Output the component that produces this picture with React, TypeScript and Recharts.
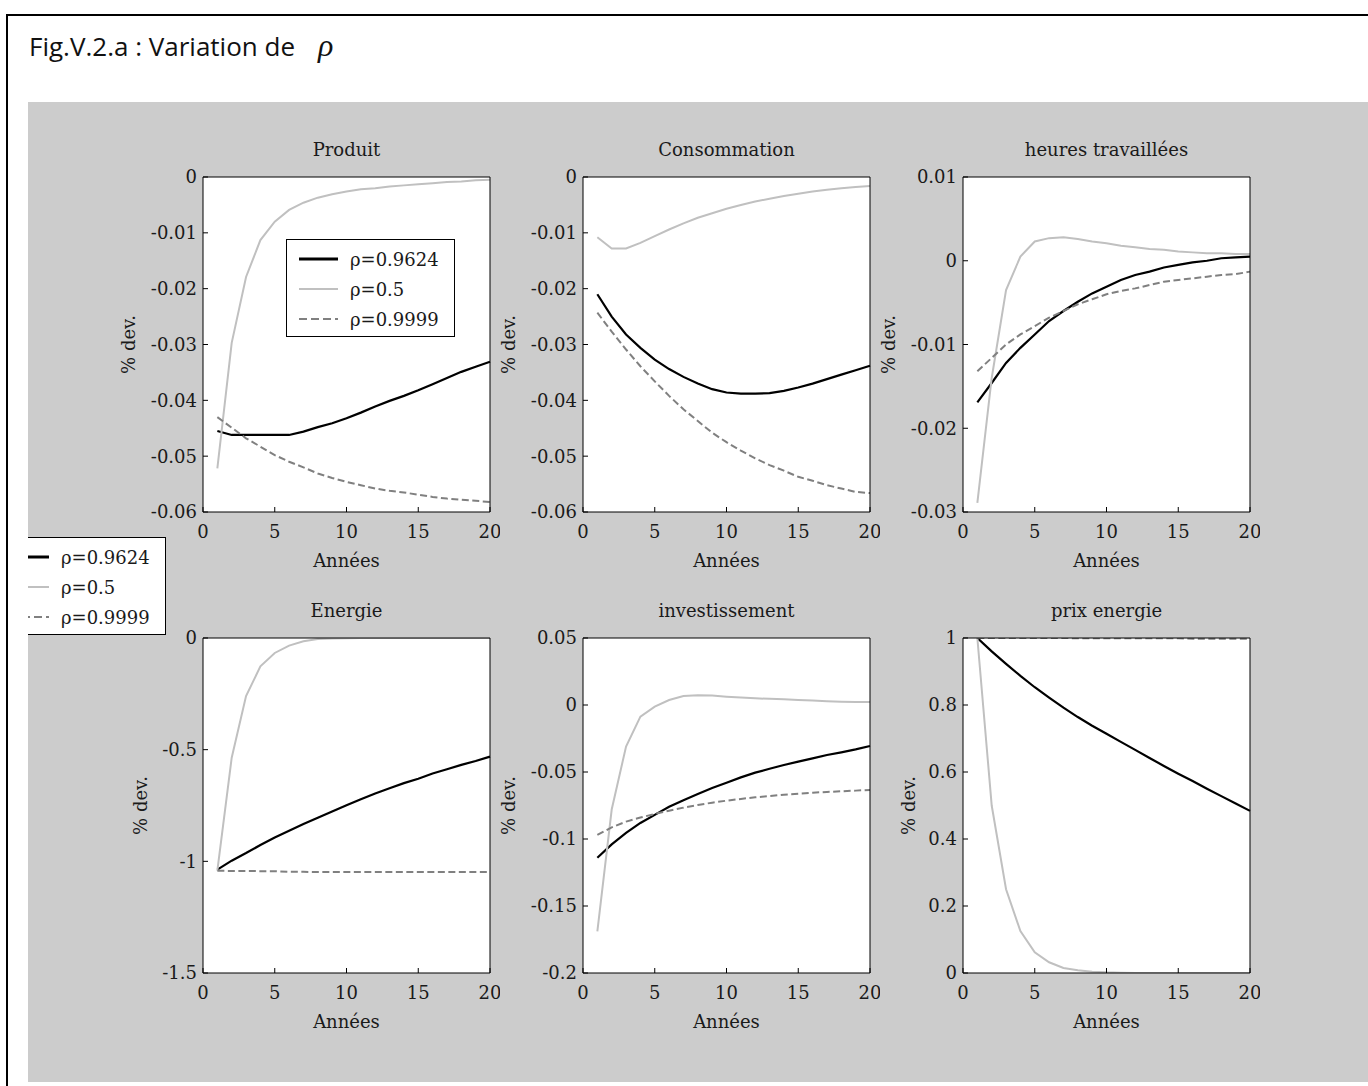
import React from 'react'
import { LineChart, Line, XAxis, YAxis, CartesianGrid } from 'recharts'

// années 1..20
const years = [1, 2, 3, 4, 5, 6, 7, 8, 9, 10, 11, 12, 13, 14, 15, 16, 17, 18, 19, 20]
const xTicks = [0, 5, 10, 15, 20]

const legendLabels = ['ρ=0.9624', 'ρ=0.5', 'ρ=0.9999']

// Produit
const produitA = [-0.0455, -0.0462, -0.0462, -0.0462, -0.0462, -0.0462, -0.0456, -0.0448, -0.0441, -0.0432, -0.0422, -0.0411, -0.0401, -0.0392, -0.0382, -0.0371, -0.036, -0.0349, -0.034, -0.0331]
const produitB = [-0.0522, -0.0297, -0.0179, -0.0113, -0.008, -0.0059, -0.0046, -0.0037, -0.0031, -0.0026, -0.0022, -0.002, -0.0017, -0.0015, -0.0013, -0.0011, -0.0009, -0.0008, -0.0006, -0.0005]
const produitC = [-0.043, -0.0449, -0.0468, -0.0483, -0.0498, -0.051, -0.052, -0.0531, -0.0539, -0.0546, -0.0552, -0.0558, -0.0562, -0.0565, -0.0569, -0.0573, -0.0576, -0.0578, -0.058, -0.0582]
const produitTicks = [-0.06, -0.05, -0.04, -0.03, -0.02, -0.01, 0]

// Consommation
const consoA = [-0.021, -0.025, -0.0282, -0.0306, -0.0327, -0.0344, -0.0358, -0.037, -0.038, -0.0386, -0.0388, -0.0388, -0.0387, -0.0383, -0.0377, -0.037, -0.0362, -0.0354, -0.0346, -0.0338]
const consoB = [-0.0108, -0.0128, -0.0128, -0.0118, -0.0106, -0.0094, -0.0083, -0.0073, -0.0065, -0.0057, -0.005, -0.0044, -0.0039, -0.0034, -0.003, -0.0026, -0.0023, -0.002, -0.0018, -0.0016]
const consoC = [-0.0243, -0.0277, -0.0309, -0.0339, -0.0366, -0.0392, -0.0416, -0.0437, -0.0458, -0.0475, -0.049, -0.0504, -0.0516, -0.0526, -0.0537, -0.0544, -0.0552, -0.0558, -0.0564, -0.0566]
const consoTicks = [-0.06, -0.05, -0.04, -0.03, -0.02, -0.01, 0]

// heures travaillées
const heuresA = [-0.0169, -0.0146, -0.0122, -0.0104, -0.0088, -0.0072, -0.006, -0.0049, -0.0039, -0.0031, -0.0023, -0.0017, -0.0013, -0.0008, -0.0005, -0.0002, 0, 0.0003, 0.0004, 0.0005]
const heuresB = [-0.0289, -0.014, -0.0035, 0.0005, 0.0023, 0.0027, 0.0028, 0.0026, 0.0023, 0.0021, 0.0018, 0.0016, 0.0014, 0.0013, 0.0011, 0.001, 0.0009, 0.0009, 0.0008, 0.0008]
const heuresC = [-0.0132, -0.0116, -0.01, -0.0088, -0.0078, -0.0068, -0.006, -0.0052, -0.0046, -0.004, -0.0036, -0.0033, -0.0029, -0.0025, -0.0023, -0.0021, -0.0019, -0.0017, -0.0016, -0.0013]
const heuresTicks = [-0.03, -0.02, -0.01, 0, 0.01]

// Energie
const energieA = [-1.037, -0.997, -0.963, -0.927, -0.893, -0.863, -0.833, -0.805, -0.777, -0.749, -0.722, -0.696, -0.673, -0.65, -0.63, -0.607, -0.588, -0.568, -0.551, -0.531]
const energieB = [-1.042, -0.536, -0.26, -0.127, -0.067, -0.034, -0.015, -0.005, -0.002, -0.001, 0, 0, 0, 0, 0, 0, 0, 0, 0, 0]
const energieC = [-1.042, -1.043, -1.043, -1.044, -1.044, -1.047, -1.047, -1.048, -1.048, -1.048, -1.048, -1.048, -1.048, -1.048, -1.048, -1.048, -1.048, -1.048, -1.048, -1.048]
const energieTicks = [-1.5, -1, -0.5, 0]

// investissement
const investA = [-0.114, -0.104, -0.0955, -0.088, -0.082, -0.076, -0.071, -0.0665, -0.062, -0.058, -0.054, -0.0505, -0.0476, -0.0448, -0.0423, -0.0398, -0.0373, -0.0353, -0.0331, -0.0306]
const investB = [-0.169, -0.078, -0.031, -0.0087, -0.0012, 0.0037, 0.0067, 0.0072, 0.007, 0.0062, 0.0056, 0.005, 0.0046, 0.0042, 0.0037, 0.0033, 0.0028, 0.0025, 0.0023, 0.0022]
const investC = [-0.097, -0.0913, -0.087, -0.084, -0.0813, -0.0789, -0.0766, -0.0746, -0.0729, -0.0714, -0.0701, -0.0689, -0.0679, -0.0669, -0.0662, -0.0654, -0.0649, -0.0644, -0.0639, -0.0634]
const investTicks = [-0.2, -0.15, -0.1, -0.05, 0, 0.05]

// prix energie
const prixA = [1, 0.96, 0.923, 0.887, 0.853, 0.822, 0.792, 0.764, 0.738, 0.714, 0.69, 0.666, 0.642, 0.618, 0.595, 0.573, 0.55, 0.528, 0.506, 0.484]
const prixB = [1, 0.5, 0.25, 0.125, 0.062, 0.032, 0.015, 0.008, 0.004, 0.002, 0.001, 0, 0, 0, 0, 0, 0, 0, 0, 0]
const prixC = [1, 1, 1, 1, 1, 1, 1, 0.999, 0.999, 0.999, 0.999, 0.999, 0.999, 0.999, 0.999, 0.998, 0.998, 0.998, 0.998, 0.998]
const prixTicks = [0, 0.2, 0.4, 0.6, 0.8, 1]

const SERIF = '"DejaVu Serif", serif'
const TXT = '#1a1a1a'
const BLACK = '#000000'
const LIGHT = '#c0c0c0'
const DASHED = '#808080'

const PLOT_W = 287
const PLOT_H = 335
const AXIS_W = 100
const AXIS_H = 70
const MT = 10
const MR = 10

interface PanelProps {
  title: string
  a: number[]
  b: number[]
  c: number[]
  ticks: number[]
  plotLeft: number
  plotTop: number
  labelGap?: number
}

function Panel({ title, a, b, c, ticks, plotLeft, plotTop, labelGap = 75 }: PanelProps) {
  const data = years.map((t, i) => ({ t, a: a[i], b: b[i], c: c[i] }))
  const domain = [ticks[0], ticks[ticks.length - 1]]
  const tickStyle = { fill: TXT, fontSize: 18, fontFamily: SERIF }

  return (
    <div style={{ position: 'absolute', left: plotLeft - AXIS_W, top: plotTop - MT }}>
      <div
        style={{
          position: 'absolute',
          left: AXIS_W,
          width: PLOT_W,
          top: MT - 37,
          lineHeight: '20px',
          textAlign: 'center',
          fontFamily: SERIF,
          fontSize: 18,
          color: TXT,
          whiteSpace: 'nowrap',
        }}
      >
        {title}
      </div>
      <LineChart
        width={AXIS_W + PLOT_W + MR}
        height={MT + PLOT_H + AXIS_H}
        data={data}
        margin={{ top: MT - 1, right: MR - 1, bottom: 0, left: 0 }}
      >
        <CartesianGrid fill="#ffffff" stroke="none" horizontal={false} vertical={false} />
        <XAxis
          dataKey="t"
          type="number"
          domain={[0, 20]}
          ticks={xTicks}
          interval={0}
          height={AXIS_H}
          stroke={BLACK}
          tickSize={-5}
          tickMargin={18}
          tick={tickStyle}
          label={{
            value: 'Années',
            content: (p: any) => {
              const vb = p.viewBox
              return (
                <text
                  x={vb.x + vb.width / 2}
                  y={vb.y + 48}
                  textAnchor="middle"
                  dominantBaseline="central"
                  fontFamily={SERIF}
                  fontSize={18}
                  fill={TXT}
                >
                  Années
                </text>
              )
            },
          }}
        />
        <XAxis
          xAxisId="top"
          orientation="top"
          dataKey="t"
          type="number"
          domain={[0, 20]}
          ticks={xTicks}
          interval={0}
          height={1}
          stroke={BLACK}
          tickSize={-5}
          tick={false}
        />
        <YAxis
          type="number"
          domain={domain}
          ticks={ticks}
          interval={0}
          width={AXIS_W}
          stroke={BLACK}
          tickSize={-5}
          tickMargin={11}
          tick={tickStyle}
          tickFormatter={(v) => String(v)}
          allowDataOverflow
          label={{
            value: '% dev.',
            content: (p: any) => {
              const vb = p.viewBox
              const x = vb.x + vb.width - labelGap
              const y = vb.y + vb.height / 2
              return (
                <text
                  x={x}
                  y={y}
                  transform={`rotate(-90, ${x}, ${y})`}
                  textAnchor="middle"
                  dominantBaseline="central"
                  fontFamily={SERIF}
                  fontSize={18}
                  fill={TXT}
                >
                  % dev.
                </text>
              )
            },
          }}
        />
        <YAxis
          yAxisId="r"
          orientation="right"
          type="number"
          domain={domain}
          ticks={ticks}
          interval={0}
          width={1}
          stroke={BLACK}
          tickSize={-5}
          tick={false}
          allowDataOverflow
        />
        {/* invisible series so the top and right frame axes get a scale */}
        <Line xAxisId="top" yAxisId="r" dataKey="a" stroke="none" dot={false} activeDot={false} isAnimationActive={false} />
        <Line dataKey="a" type="linear" stroke={BLACK} strokeWidth={2.2} dot={false} isAnimationActive={false} />
        <Line dataKey="b" type="linear" stroke={LIGHT} strokeWidth={2} dot={false} isAnimationActive={false} />
        <Line dataKey="c" type="linear" stroke={DASHED} strokeWidth={2} strokeDasharray="7 3.5" dot={false} isAnimationActive={false} />
      </LineChart>
    </div>
  )
}

function LegendBox({ left, top }: { left: number; top: number }) {
  const rows = [19, 49, 79]
  const styles = [
    { stroke: BLACK, width: 3, dash: undefined },
    { stroke: LIGHT, width: 2, dash: undefined },
    { stroke: DASHED, width: 2, dash: '8 4' },
  ]
  return (
    <svg
      width={169}
      height={98}
      style={{ position: 'absolute', left, top, background: '#ffffff', border: '1px solid #000', boxSizing: 'border-box' }}
    >
      {legendLabels.map((lab, i) => (
        <g key={lab}>
          <line
            x1={12}
            x2={51}
            y1={rows[i]}
            y2={rows[i]}
            stroke={styles[i].stroke}
            strokeWidth={styles[i].width}
            strokeDasharray={styles[i].dash}
          />
          <text x={63} y={rows[i]} dominantBaseline="central" fontFamily={SERIF} fontSize={18} fill={TXT}>
            {lab}
          </text>
        </g>
      ))}
    </svg>
  )
}

export default function App() {
  // grey figure area starts at (28, 102) on the page
  const col = [175, 555, 935]
  const row = [75, 536]
  return (
    <div style={{ position: 'absolute', left: 0, top: 0, width: 1368, height: 1086, background: '#ffffff', overflow: 'hidden' }}>
      <div
        style={{
          position: 'absolute',
          left: 6,
          top: 14,
          width: 1400,
          height: 1200,
          borderTop: '2px solid #000',
          borderLeft: '2px solid #000',
        }}
      />
      <svg width={500} height={80} style={{ position: 'absolute', left: 0, top: 0 }}>
        <text x={29} y={56} fontFamily='"Open Sans", "Noto Sans", sans-serif' fontSize={26} fill="#111">
          Fig.V.2.a : Variation de
        </text>
        <text x={318} y={56} fontFamily='"Liberation Serif", serif' fontStyle="italic" fontSize={32} fill="#111">
          ρ
        </text>
      </svg>
      <div
        style={{
          position: 'absolute',
          left: 28,
          top: 102,
          width: 1340,
          height: 980,
          background: '#cccccc',
          overflow: 'hidden',
        }}
      >
        <Panel title="Produit" a={produitA} b={produitB} c={produitC} ticks={produitTicks} plotLeft={col[0]} plotTop={row[0]} />
        <Panel title="Consommation" a={consoA} b={consoB} c={consoC} ticks={consoTicks} plotLeft={col[1]} plotTop={row[0]} />
        <Panel title="heures travaillées" a={heuresA} b={heuresB} c={heuresC} ticks={heuresTicks} plotLeft={col[2]} plotTop={row[0]} />
        <Panel title="Energie" a={energieA} b={energieB} c={energieC} ticks={energieTicks} plotLeft={col[0]} plotTop={row[1]} labelGap={63} />
        <Panel title="investissement" a={investA} b={investB} c={investC} ticks={investTicks} plotLeft={col[1]} plotTop={row[1]} />
        <Panel title="prix energie" a={prixA} b={prixB} c={prixC} ticks={prixTicks} plotLeft={col[2]} plotTop={row[1]} labelGap={55} />
        <LegendBox left={258} top={137} />
        <LegendBox left={-31} top={435} />
      </div>
    </div>
  )
}
